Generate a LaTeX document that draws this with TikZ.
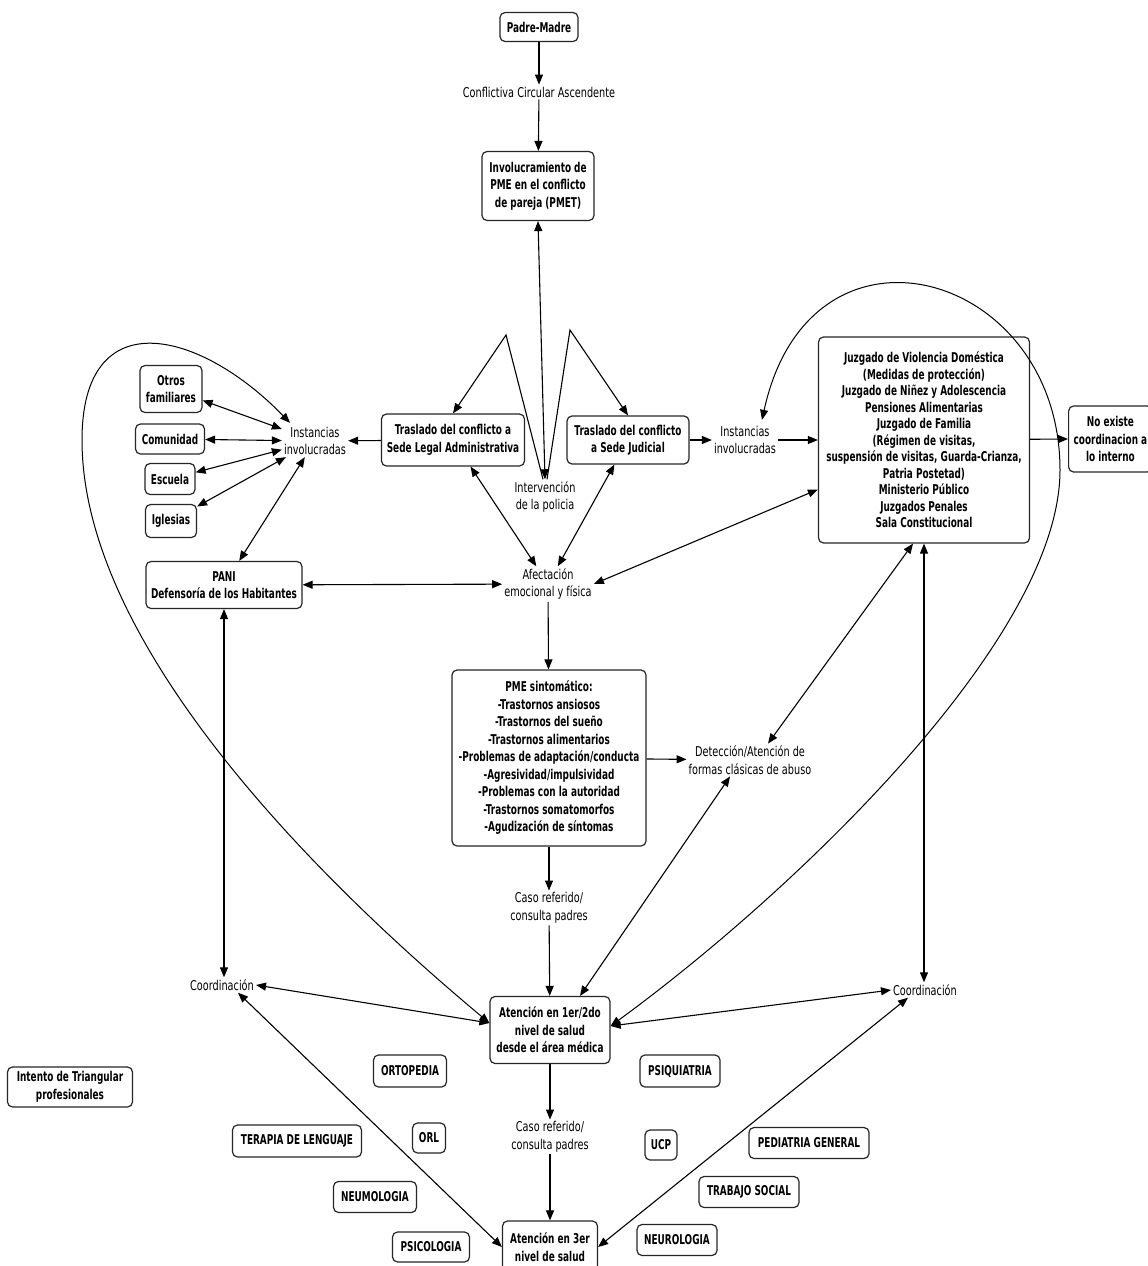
\documentclass[tikz,border=0pt]{standalone}
\usepackage{fontspec}
\newfontfamily\lkfont{DejaVu Sans}[FakeStretch=0.72]
\newfontfamily\bxfont{DejaVu Sans}[FakeStretch=0.66]
\usetikzlibrary{arrows.meta,calc}
\tikzset{
  box/.style={draw=black!85, line width=1.2pt, rounded corners=5pt, align=center,
    font=\bxfont\bfseries\fontsize{13.5}{17.5}\selectfont, inner xsep=5pt, inner ysep=4pt, fill=white},
  lk/.style={align=center, font=\lkfont\fontsize{13.5}{17.5}\selectfont, inner sep=2pt},
  con/.style={line width=1.1pt, -{Triangle[length=10pt,width=8pt]}},
  bi/.style={line width=1.1pt, {Triangle[length=10pt,width=8pt]}-{Triangle[length=10pt,width=8pt]}},
  lp/.style={line width=1pt, {Triangle[length=10pt,width=8pt]}-{Triangle[length=10pt,width=8pt]}},
}
\begin{document}
\begin{tikzpicture}[x=1pt,y=-1pt]
\fill[white] (0,0) rectangle (1148,1266);
\useasboundingbox (0,0) rectangle (1148,1266);

% concept boxes
\node[box, minimum width=78pt, minimum height=29pt] (pm) at (539,27) {Padre-Madre};
\node[box, minimum width=112pt, minimum height=69pt] (inv) at (538,186) {Involucramiento de\\PME en el conflicto\\de pareja (PMET)};
\node[box, minimum width=143pt, minimum height=52pt] (tla) at (453,440) {Traslado del conflicto a\\Sede Legal Administrativa};
\node[box, minimum width=122pt, minimum height=48pt] (tju) at (628,440) {Traslado del conflicto\\a Sede Judicial};
\node[box, minimum width=211pt, minimum height=206pt, font=\bxfont\bfseries\fontsize{13.5}{16.5}\selectfont] (juz) at (924,440)
  {Juzgado de Violencia Doméstica\\(Medidas de protección)\\Juzgado de Niñez y Adolescencia\\Pensiones Alimentarias\\Juzgado de Familia\\(Régimen de visitas,\\suspensión de visitas, Guarda-Crianza,\\Patria Postetad)\\Ministerio Público\\Juzgados Penales\\Sala Constitucional};
\node[box, anchor=west, minimum height=66pt] (nox) at (1068,439) {No existe\\coordinacion a\\lo interno};
\node[box, minimum width=62pt, minimum height=47pt] (otr) at (171,389) {Otros\\familiares};
\node[box, minimum width=69pt, minimum height=30pt] (com) at (170,439) {Comunidad};
\node[box, minimum width=50pt, minimum height=31pt] (esc) at (170,479) {Escuela};
\node[box, minimum width=51pt, minimum height=33pt] (igl) at (171,521) {Iglesias};
\node[box, minimum width=156pt, minimum height=47pt] (pani) at (224,585) {PANI\\Defensoría de los Habitantes};
\node[box, minimum width=194pt, minimum height=176pt] (pme) at (549,758)
  {PME sintomático:\\-Trastornos ansiosos\\-Trastornos del sueño\\-Trastornos alimentarios\\-Problemas de adaptación/conducta\\-Agresividad/impulsividad\\-Problemas con la autoridad\\-Trastornos somatomorfos\\-Agudización de síntomas};
\node[box, minimum width=120pt, minimum height=67pt] (at1) at (550,1030) {Atención en 1er/2do\\nivel de salud\\desde el área médica};
\node[box, minimum width=95pt, minimum height=52pt] (at3) at (550,1247) {Atención en 3er\\nivel de salud};
\node[box, minimum width=125pt, minimum height=40pt] (tri) at (70,1087) {Intento de Triangular\\profesionales};

% specialty boxes
\node[box, minimum width=73pt, minimum height=32pt] (ort) at (410,1071) {ORTOPEDIA};
\node[box, minimum width=33pt, minimum height=30pt] (orl) at (429,1138) {ORL};
\node[box, minimum width=129pt, minimum height=32pt] (ter) at (297,1141) {TERAPIA DE LENGUAJE};
\node[box, minimum width=83pt, minimum height=31pt] (neu) at (375,1197) {NEUMOLOGIA};
\node[box, minimum width=77pt, minimum height=30pt] (psi) at (431,1247) {PSICOLOGIA};
\node[box, minimum width=80pt, minimum height=32pt] (psq) at (680,1071) {PSIQUIATRIA};
\node[box, minimum width=32pt, minimum height=30pt] (ucp) at (661,1145) {UCP};
\node[box, minimum width=120pt, minimum height=31pt] (ped) at (809,1143) {PEDIATRIA GENERAL};
\node[box, minimum width=100pt, minimum height=31pt] (tra) at (749,1192) {TRABAJO SOCIAL};
\node[box, minimum width=80pt, minimum height=31pt] (nrl) at (677,1240) {NEUROLOGIA};

% linking phrases
\node[lk] (cca) at (539,92) {Conflictiva Circular Ascendente};
\node[lk] (pol) at (545,497) {Intervención\\de la policia};
\node[lk] (il) at (315,441) {Instancias\\involucradas};
\node[lk] (ir) at (745,440) {Instancias\\involucradas};
\node[lk] (afe) at (548,584) {Afectación\\emocional y física};
\node[lk] (det) at (750,760) {Detección/Atención de\\formas clásicas de abuso};
\node[lk] (cr1) at (549,908) {Caso referido/\\consulta padres};
\node[lk] (cr2) at (550,1137) {Caso referido/\\consulta padres};
\node[lk] (col) at (222,985) {Coordinación};
\node[lk] (cor) at (925,990) {Coordinación};

\coordinate (pk1) at (506,335);
\coordinate (pk2) at (570,330);
\coordinate (lA) at (82,440);
\coordinate (rA) at (1060,470);

% connectors
\draw[con] (pm) -- (cca);
\draw[con] (cca) -- (inv);
\draw[bi] (pol.north) -- (inv.south);
\draw[con] ($(pol.north)+(-2,0)$) -- (pk1) -- (tla.north);
\draw[con] ($(pol.north)+(2,0)$) -- (pk2) -- (tju.north);
\draw[con] (tla) -- (il);
\draw[con] (tju) -- (ir);
\draw[con] (ir) -- (juz);
\draw[con] (juz) -- (nox.west);
\draw[bi] (juz.205) -- (afe.east);
\draw[bi] (tla) -- (afe);
\draw[bi] (tju) -- (afe);
\draw[bi] (pani) -- (afe);
\draw[bi] (il) -- (pani);
\draw[bi] (il) -- (otr);
\draw[bi] (il) -- (com);
\draw[bi] (il) -- (esc);
\draw[bi] (il) -- (igl);
\draw[con] (afe) -- (pme);
\draw[con] (pme) -- (det);
\draw[bi] ($(juz.south)+(-11,0)$) -- ($(det.north)+(18,0)$);
\draw[bi] ($(det.south)+(-20,0)$) -- ($(at1.north)+(30,0)$);
\draw[bi] (juz.south) -- (juz.south |- cor.north);
\draw[con] (pme) -- (cr1);
\draw[con] (cr1) -- (at1);
\draw[bi] (pani.south) -- (pani.south |- col.north);
\draw[bi] (col.east) -- ($(at1.west)+(0,-7)$);
\draw[bi] ($(col.south)+(16,0)$) -- (at3.west);
\draw[bi] (cor.west) -- ($(at1.east)+(0,-4)$);
\draw[bi] ($(cor.south)+(-17,0)$) -- (at3.east);
\draw[con] (at1) -- (cr2);
\draw[con] (cr2) -- (at3);

% loops
\draw[lp] ($(at1.west)+(0,-7)$) .. controls (306,870) and (82,640) .. (lA)
  .. controls (82,300) and (200,330) .. ($(il.north)+(-25,-2)$);
\draw[lp] ($(at1.east)+(0,-4)$) .. controls (790,895) and (1060,640) .. (rA)
  .. controls (1060,270) and (810,200) .. ($(ir.north)+(17,-4)$);
\end{tikzpicture}
\end{document}
